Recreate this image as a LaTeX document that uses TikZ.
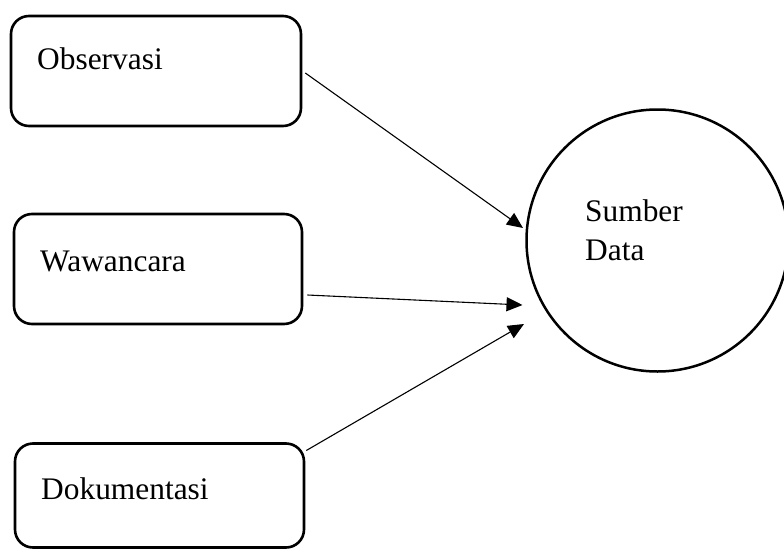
\documentclass[tikz,border=0pt]{standalone}
\usepackage{fontspec}
\setmainfont{Liberation Serif}
\usetikzlibrary{arrows.meta}
\begin{document}
\begin{tikzpicture}[x=1pt,y=-1pt,
  box/.style={draw=black,line width=2.6pt,rounded corners=18pt,minimum width=290pt,minimum height=110pt,inner sep=0pt},
  lbl/.style={anchor=base west,inner sep=0pt,font=\fontsize{31.4pt}{39pt}\selectfont},
  arr/.style={line width=1.1pt,-{Triangle[length=16pt,width=14pt]}},
  ring/.style={draw=black,line width=2.5pt,circle,minimum size=262pt,inner sep=0pt}]
\useasboundingbox (0,0) rectangle (784,551);
\clip (0,0) rectangle (784,551);
\node[box] (obs) at (156,71) {};
\node[box,minimum width=288pt] (waw) at (158,269) {};
\node[box,minimum width=289pt,minimum height=104pt] (dok) at (159.5,495.5) {};
\node[ring] (sd) at (657.5,240.5) {};
\node[lbl] (tobs) at (37,70) {Observasi};
\node[lbl] (twaw) at (40,271) {Wawancara};
\node[lbl] (tdok) at (41,499) {Dokumentasi};
\node[lbl,align=left,anchor=base west] (tsd) at (585,260) {Sumber\\Data};
\coordinate (e1) at (523,228);
\coordinate (e2) at (522.5,305);
\coordinate (e3) at (524,324);
\draw[arr] ([shift={(3,2)}]obs.east) -- (e1);
\draw[arr] ([shift={(4,26)}]waw.east) -- (e2);
\draw[arr] ([shift={(1,-45)}]dok.east) -- (e3);
\end{tikzpicture}
\end{document}
